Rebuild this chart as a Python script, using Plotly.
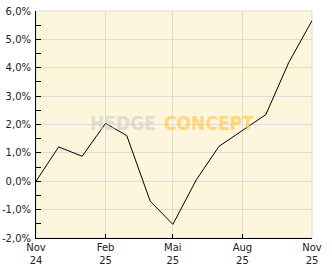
import plotly.graph_objects as go

months = ["2024-11-01", "2024-12-01", "2025-01-01", "2025-02-01", "2025-03-01",
          "2025-04-01", "2025-05-01", "2025-06-01", "2025-07-01", "2025-08-01",
          "2025-09-01", "2025-10-01", "2025-11-01"]
values = [0.0, 1.21, 0.88, 2.04, 1.61, -0.70, -1.52, 0.05, 1.23, 1.78, 2.35, 4.17, 5.66]

tick_dates = ["2024-11-01", "2025-02-01", "2025-05-01", "2025-08-01", "2025-11-01"]
tick_text = ["Nov<br>24", "Feb<br>25", "Mai<br>25", "Aug<br>25", "Nov<br>25"]
y_ticks = [-2, -1, 0, 1, 2, 3, 4, 5, 6]
y_tick_text = ["-2,0%", "-1,0%", "0,0%", "1,0%", "2,0%", "3,0%", "4,0%", "5,0%", "6,0%"]

fig = go.Figure()
fig.add_trace(go.Scatter(x=months, y=values, mode="lines",
                         line=dict(color="#000000", width=1), hoverinfo="skip"))

font = dict(family="DejaVu Sans", size=10, color="#222222")

fig.update_layout(
    width=332, height=269,
    margin=dict(l=36, r=20, t=11, b=31, autoexpand=False),
    paper_bgcolor="#ffffff", plot_bgcolor="#FDF5DC",
    showlegend=False,
    font=font,
    xaxis=dict(
        range=["2024-11-01", "2025-11-01"],
        tickvals=tick_dates, ticktext=tick_text,
        showgrid=True, gridcolor="#DCDCDC", gridwidth=1,
        showline=True, linecolor="#000000", linewidth=1,
        ticks="inside", ticklen=4, tickcolor="#000000",
        tickfont=font, zeroline=False, automargin=False,
    ),
    yaxis=dict(
        range=[-2, 6],
        tickvals=y_ticks, ticktext=y_tick_text,
        showgrid=True, gridcolor="#DCDCDC", gridwidth=1,
        showline=True, linecolor="#000000", linewidth=1,
        ticks="inside", ticklen=5, tickcolor="#000000",
        minor=dict(tickvals=[-1.5, -0.5, 0.5, 1.5, 2.5, 3.5, 4.5, 5.5],
                   ticks="inside", ticklen=5, tickcolor="#000000", showgrid=False),
        tickfont=font, zeroline=False, automargin=False, ticklabelstandoff=2,
    ),
)

# watermark
fig.add_annotation(xref="paper", yref="paper", x=0.443, y=0.507, xanchor="right", yanchor="middle",
                   text="<b>HEDGE</b>", showarrow=False,
                   font=dict(family="DejaVu Sans Condensed", size=19, color="rgba(200,200,200,0.55)"))
fig.add_annotation(xref="paper", yref="paper", x=0.458, y=0.507, xanchor="left", yanchor="middle",
                   text="<b>CONCEPT</b>", showarrow=False,
                   font=dict(family="DejaVu Sans Condensed", size=19, color="rgba(255,200,80,0.7)"))

# right/top border
fig.add_shape(type="rect", xref="paper", yref="paper", x0=0, y0=0, x1=1, y1=1,
              line=dict(color="#DCDCDC", width=1), layer="below")

fig.write_html("out.html")
